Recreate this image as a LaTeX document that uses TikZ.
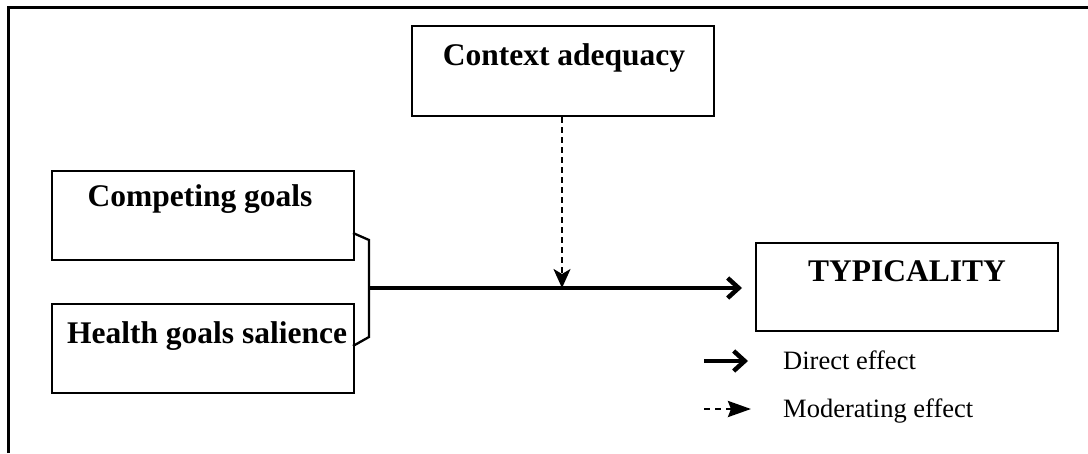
\documentclass[tikz,border=0pt]{standalone}
\usepackage{fontspec}
\setmainfont{Liberation Serif}
\usetikzlibrary{arrows.meta}
\begin{document}
\begin{tikzpicture}[x=1pt,y=-1pt,
  box/.style={draw,line width=2.3pt,inner sep=0pt,anchor=north west},
  boxlabel/.style={font=\bfseries\fontsize{31.5}{36}\selectfont,anchor=base,inner sep=0pt},
  legendlabel/.style={font=\fontsize{26.5}{30}\selectfont,anchor=base west,inner sep=0pt},
  direct/.style={line width=4.5pt,-{Straight Barb[length=11pt,width=20pt]}},
  moderating/.style={line width=2.5pt,dash pattern=on 6pt off 4pt,-{Stealth[length=19pt,width=17pt,inset=5pt]}},
  bracket/.style={line width=2.3pt,line join=miter}
]
\useasboundingbox (0,0) rectangle (1088,453);

% outer frame (top and left edges)
\coordinate (frameBL) at (8.5,453);
\coordinate (frameTL) at (8.5,7.5);
\coordinate (frameTR) at (1088,7.5);
\draw[line width=3pt] (frameBL) -- (frameTL) -- (frameTR);

% boxes
\node[box,minimum width=302pt,minimum height=90pt] (ctx) at (411,25) {};
\node[box,minimum width=302pt,minimum height=89pt] (comp) at (51,170) {};
\node[box,minimum width=302pt,minimum height=89pt] (health) at (51,303) {};
\node[box,minimum width=302pt,minimum height=88pt] (typ) at (755,242) {};

% box texts
\node[boxlabel] (ctxText) at (564,65) {Context adequacy};
\node[boxlabel] (compText) at (200,206) {Competing goals};
\node[boxlabel] (healthText) at (207,343) {Health goals salience};
\node[boxlabel] (typText) at (907,281) {TYPICALITY};

% bracket joining the two goal boxes
\coordinate (brTop) at (353,233);
\coordinate (brTopIn) at (369,240);
\coordinate (brMid) at (369,288);
\coordinate (brBotIn) at (369,337);
\coordinate (brBot) at (353,346);
\draw[bracket] (brTop) -- (brTopIn) -- (brBotIn) -- (brBot);

% direct effect towards typicality
\coordinate (mainEnd) at (742,288);
\draw[direct] (brMid) -- (mainEnd);

% moderating effect of context
\coordinate (modEnd) at (562,288);
\draw[moderating] (ctx.south -| modEnd) -- (modEnd);

% legend
\coordinate (lgA1) at (704,361);
\coordinate (lgA2) at (748,361);
\coordinate (lgB1) at (704,409);
\coordinate (lgB2) at (751,409);
\draw[direct] (lgA1) -- (lgA2);
\draw[line width=2.8pt,dash pattern=on 6pt off 5pt,-{Stealth[length=23pt,width=16pt,inset=3pt]}] (lgB1) -- (lgB2);
\node[legendlabel] (lgDirect) at (783,369) {Direct effect};
\node[legendlabel] (lgMod) at (783,417) {Moderating effect};
\end{tikzpicture}
\end{document}
